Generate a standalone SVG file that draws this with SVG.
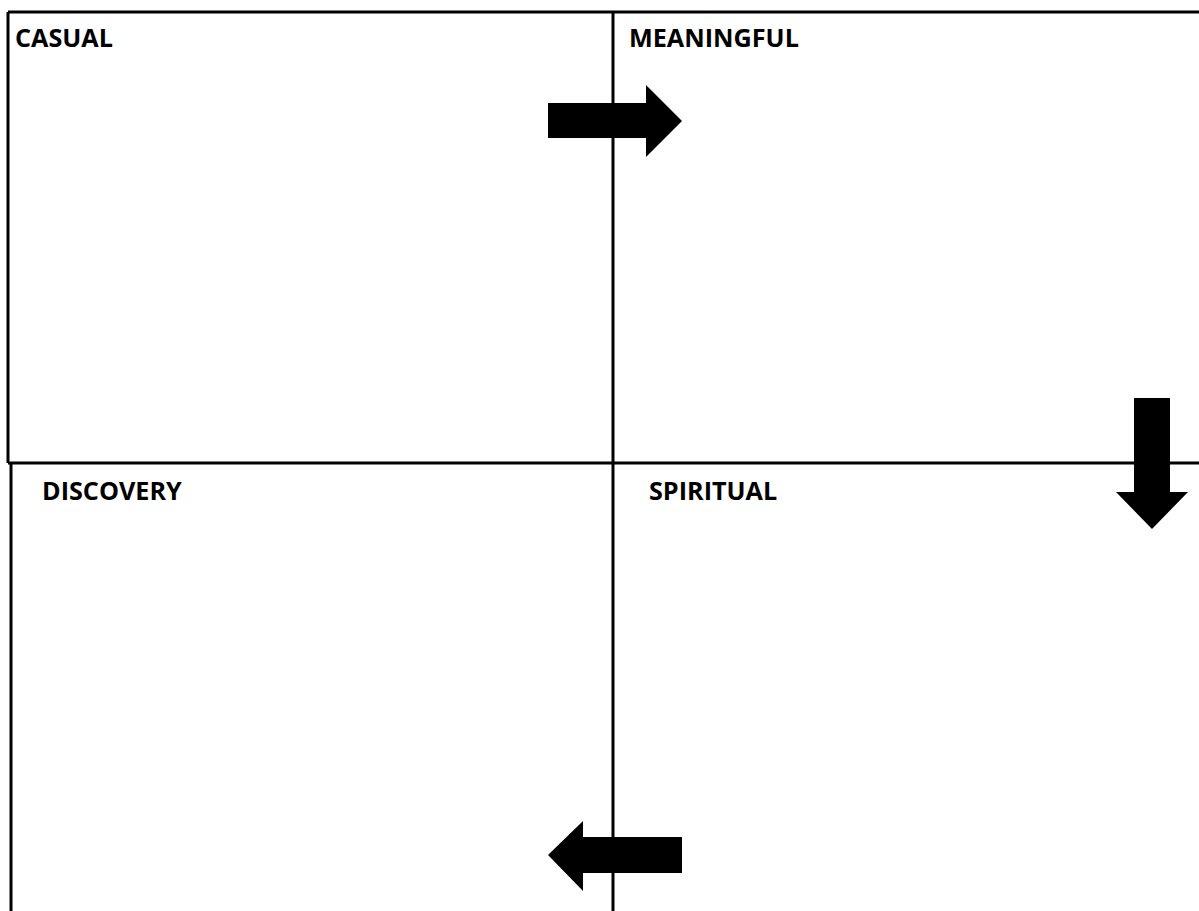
<svg xmlns="http://www.w3.org/2000/svg" width="1199" height="911" viewBox="0 0 1199 911">
<style>
.ln{stroke:#000;stroke-width:3;fill:none}
.lbl{font-family:"Open Sans","Liberation Sans",sans-serif;font-weight:bold;font-size:25.2px;fill:#000}
.arr{fill:#000}
</style>
<rect width="1199" height="911" fill="#fff"/>
<g id="frame">
<line class="ln" x1="8" y1="12" x2="1199" y2="12"/>
<line class="ln" x1="8" y1="12" x2="8" y2="463"/>
<line class="ln" x1="8" y1="463" x2="1199" y2="463"/>
<line class="ln" x1="11" y1="463" x2="11" y2="911"/>
<line class="ln" x1="613" y1="12" x2="613" y2="911"/>
</g>
<g id="casual"><text class="lbl" x="15" y="47">CASUAL</text></g>
<g id="meaningful"><text class="lbl" x="629" y="47">MEANINGFUL</text></g>
<g id="discovery"><text class="lbl" x="42" y="500">DISCOVERY</text></g>
<g id="spiritual"><text class="lbl" x="649" y="500">SPIRITUAL</text></g>
<g id="connectors">
<polygon class="arr" points="548,103 646,103 646,85 682,121 646,157 646,138 548,138"/>
<polygon class="arr" points="1134,398 1170,398 1170,492 1188,492 1152,529 1116,492 1134,492"/>
<polygon class="arr" points="682,837 583,837 583,821 548,855 583,891 583,873 682,873"/>
</g>
</svg>
